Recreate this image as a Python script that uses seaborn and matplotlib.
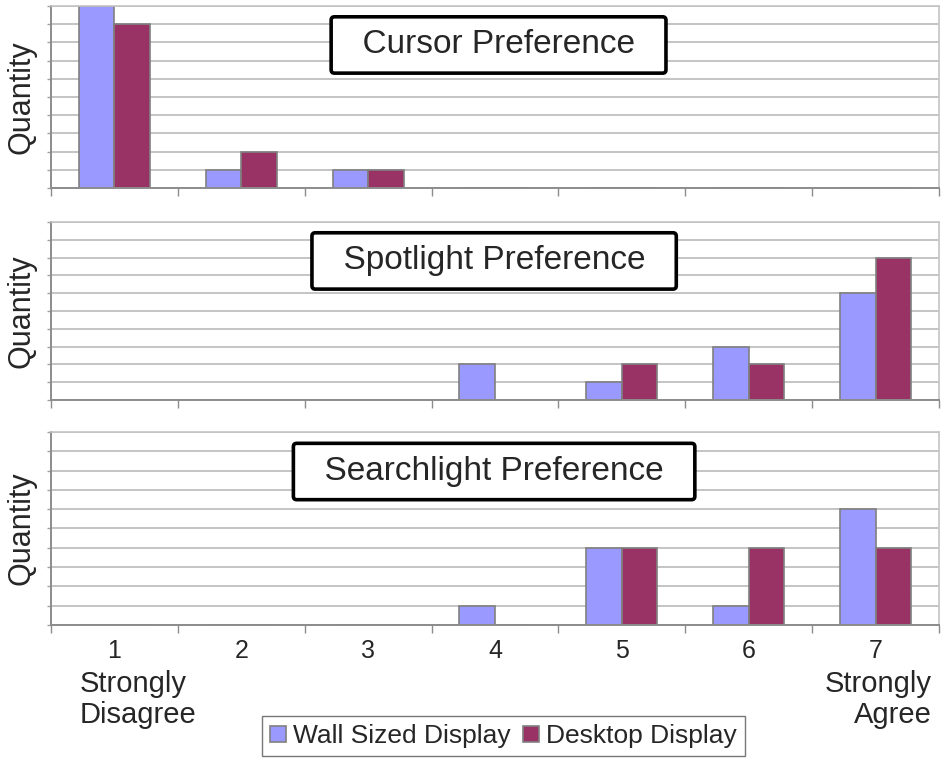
import matplotlib
matplotlib.use("Agg")
import matplotlib.pyplot as plt
import numpy as np
import pandas as pd
import seaborn as sns

# answers on a 1..7 scale, counts per display
scores = ['1', '2', '3', '4', '5', '6', '7']
displays = ['Wall Sized Display', 'Desktop Display']

cursor_wall = [10, 1, 1, 0, 0, 0, 0]
cursor_desktop = [9, 2, 1, 0, 0, 0, 0]

spotlight_wall = [0, 0, 0, 2, 1, 3, 6]
spotlight_desktop = [0, 0, 0, 0, 2, 2, 8]

searchlight_wall = [0, 0, 0, 1, 4, 1, 6]
searchlight_desktop = [0, 0, 0, 0, 4, 4, 4]

titles = ['Cursor Preference', 'Spotlight Preference', 'Searchlight Preference']
panels = [(cursor_wall, cursor_desktop),
          (spotlight_wall, spotlight_desktop),
          (searchlight_wall, searchlight_desktop)]

colors = ['#9999FF', '#993366']

sns.set_style('white')
plt.rcParams['font.family'] = ['Liberation Sans', 'DejaVu Sans']

fig = plt.figure(figsize=(9.48, 7.63), dpi=100)

# axes boxes in figure fractions (left, bottom, width, height)
boxes = [(0.0538, 0.7536, 0.9367, 0.2385),
         (0.0538, 0.4758, 0.9367, 0.2333),
         (0.0538, 0.1809, 0.9367, 0.2530)]
title_pos = [(0.504, 0.786), (0.499, 0.781), (0.499, 0.795)]

axes = []
for i, (wall, desk) in enumerate(panels):
    ax = fig.add_axes(boxes[i])
    df = pd.DataFrame({
        'score': scores * 2,
        'count': wall + desk,
        'display': [displays[0]] * len(scores) + [displays[1]] * len(scores),
    })
    sns.barplot(data=df, x='score', y='count', hue='display', order=scores,
                hue_order=displays, palette=colors, saturation=1, width=0.56, gap=0,
                edgecolor='#808080', linewidth=1.2, ax=ax, legend=(i == 2))

    ax.set_ylim(0, 10)
    ax.set_xlim(-0.5, 6.5)
    ax.set_yticks(range(11))
    ax.set_yticklabels([])
    ax.yaxis.grid(True, color='#C4C4C4', lw=1.4)
    ax.set_axisbelow(True)
    ax.tick_params(axis='y', length=3, width=1, color='#A0A0A0', left=True)

    ax.set_xticks(np.arange(-0.5, 7, 1), minor=True)
    ax.tick_params(axis='x', which='minor', length=6, width=1, color='#8C8C8C', bottom=True)
    ax.tick_params(axis='x', which='major', length=0, pad=10, labelsize=18)
    if i < 2:
        ax.set_xticklabels([])

    for s in ['left', 'bottom']:
        ax.spines[s].set_color('#8C8C8C')
        ax.spines[s].set_linewidth(1.4)
    for s in ['top', 'right']:
        ax.spines[s].set_color('#C4C4C4')
        ax.spines[s].set_linewidth(1.2)

    ax.set_xlabel('')
    ax.set_ylabel('Quantity', fontsize=22, labelpad=4)

    ax.text(title_pos[i][0], title_pos[i][1], '  ' + titles[i] + '  ',
            transform=ax.transAxes, ha='center', va='center', fontsize=24,
            bbox=dict(boxstyle='round,pad=0.38,rounding_size=0.1',
                      fc='white', ec='black', lw=2.6), zorder=5)
    axes.append(ax)

handles, labels = axes[2].get_legend_handles_labels()
axes[2].get_legend().remove()
fig.legend(handles, labels, loc='center', bbox_to_anchor=(0.531, 0.035),
           ncol=2, fontsize=19, frameon=True, fancybox=False, edgecolor='#555555',
           handlelength=0.6, handleheight=0.6, handletextpad=0.25,
           columnspacing=0.5, borderpad=0.3)

fig.text(80 / 948, 1 - 670 / 763, 'Strongly\nDisagree', ha='left', va='top',
         fontsize=21, linespacing=1.12)
fig.text(932 / 948, 1 - 670 / 763, 'Strongly\nAgree', ha='right', va='top',
         fontsize=21, linespacing=1.12, multialignment='right')

fig.savefig('out.png', dpi=100)
